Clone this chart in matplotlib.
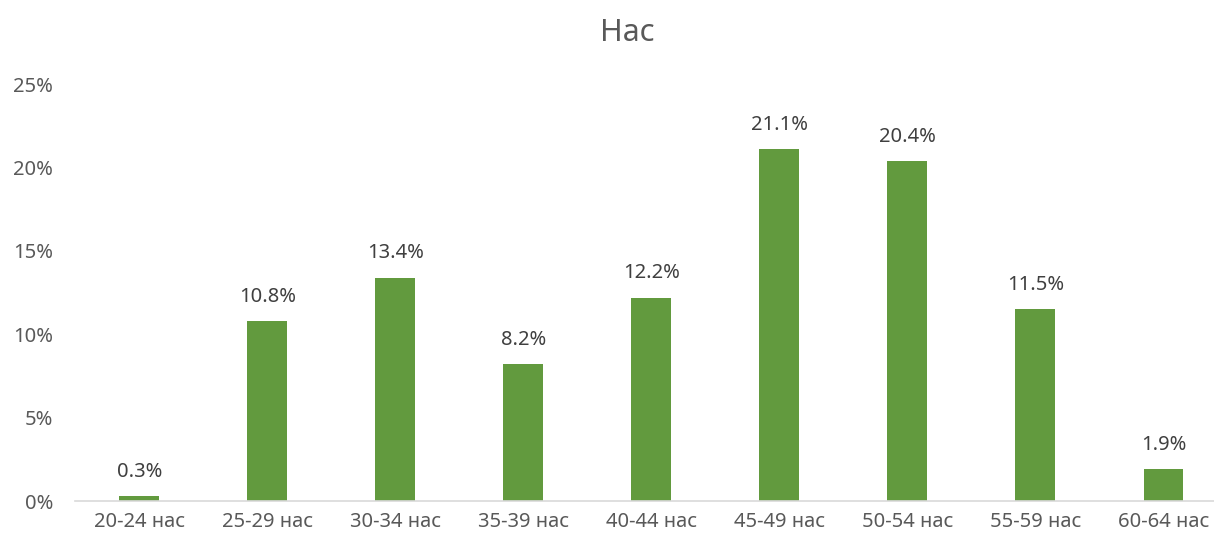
import matplotlib.pyplot as plt

categories = ['20-24 нас', '25-29 нас', '30-34 нас', '35-39 нас', '40-44 нас',
              '45-49 нас', '50-54 нас', '55-59 нас', '60-64 нас']
values = [0.3, 10.8, 13.4, 8.2, 12.2, 21.1, 20.4, 11.5, 1.9]
yticks = [0, 5, 10, 15, 20, 25]

plt.rcParams['font.family'] = ['Noto Sans', 'DejaVu Sans']
txt = '#595959'
fs = 14.5

fig = plt.figure(figsize=(12.14, 5.42), dpi=100)
ax = fig.add_axes([0.062, 0.0756, 0.949, 0.769])

x = range(len(categories))
ax.bar(x, values, width=0.31, color='#629A3E', zorder=2)
for xi, v in zip(x, values):
    ax.text(xi, v + 0.85, f'{v:.1f}%', ha='center', va='bottom', fontsize=fs, color='#404040')

ax.set_xlim(-0.5, 8.5)
ax.set_ylim(0, 25)
ax.set_xticks(list(x))
ax.set_xticklabels(categories, fontsize=fs, color=txt)
ax.set_yticks(yticks)
ax.set_yticklabels([f'{t}%' for t in yticks], fontsize=fs, color=txt)
ax.tick_params(length=0)
ax.tick_params(axis='x', pad=8)
ax.tick_params(axis='y', pad=16)

for s in ['top', 'right', 'left']:
    ax.spines[s].set_visible(False)
ax.spines['bottom'].set_color('#D9D9D9')
ax.spines['bottom'].set_linewidth(1.2)

fig.text(0.517, 0.94, 'Нас', ha='center', va='center', fontsize=22, color=txt)

fig.savefig('out.png', dpi=100)
